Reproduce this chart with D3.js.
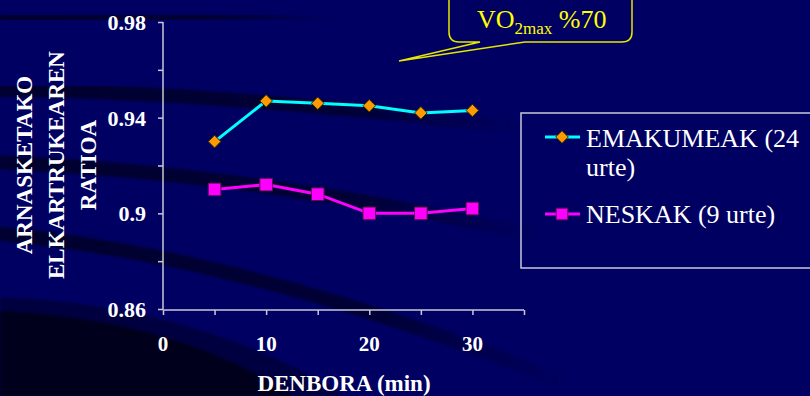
<!DOCTYPE html>
<html>
<head>
<meta charset="utf-8">
<script src="https://cdn.jsdelivr.net/npm/d3@7/dist/d3.min.js"></script>
<style>
  html, body { margin: 0; padding: 0; background: #000062; }
  svg { display: block; }
  .serif { font-family: "Liberation Serif", "Times New Roman", Times, "DejaVu Serif", serif; }
</style>
</head>
<body>
<svg id="chart" width="810" height="396"></svg>
<script>
// Breathing exchange ratio over time at 70% VO2max
const minutes = [5, 10, 15, 20, 25, 30];
const emakumeak = [0.930, 0.947, 0.946, 0.945, 0.942, 0.943];
const neskak = [0.910, 0.912, 0.908, 0.900, 0.900, 0.902];
const seriesNames = ["EMAKUMEAK (24", "urte)", "NESKAK (9 urte)"];
const yTickValues = [0.86, 0.88, 0.90, 0.92, 0.94, 0.96, 0.98];
const yLabelValues = [0.86, 0.90, 0.94, 0.98];
const xTickValues = [0, 5, 10, 15, 20, 25, 30, 35];
const xLabelValues = [0, 10, 20, 30];
const yTitle = ["ARNASKETAKO", "ELKARTRUKEAREN", "RATIOA"];
const xTitle = "DENBORA (min)";

const svg = d3.select("#chart");
const W = 810, H = 396;

// ---- background with dark sweeping bands ----
const bg = svg.append("g");
const defs = svg.append("defs");
defs.append("filter").attr("id", "soft")
  .append("feGaussianBlur").attr("stdDeviation", 0.8);

bg.append("rect").attr("width", W).attr("height", H).attr("fill", "#000062");

const bands = [
  {d: "M -10 16 Q 120 15 330 19", x0: 0, x1: 330},
  {d: "M -10 90 Q 200 90 520 128", x0: 0, x1: 520},
  {d: "M -10 162 Q 250 172 540 236", x0: 0, x1: 540},
  {d: "M -10 233 Q 250 255 570 385", x0: 0, x1: 570}
];
bands.forEach((b, i) => {
  const g = defs.append("linearGradient").attr("id", "fade" + i)
    .attr("gradientUnits", "userSpaceOnUse")
    .attr("x1", b.x0).attr("x2", b.x1).attr("y1", 0).attr("y2", 0);
  g.append("stop").attr("offset", "0%").attr("stop-color", "#000030").attr("stop-opacity", 1);
  g.append("stop").attr("offset", "65%").attr("stop-color", "#000030").attr("stop-opacity", 0.9);
  g.append("stop").attr("offset", "100%").attr("stop-color", "#000030").attr("stop-opacity", 0);
});
bg.selectAll("path.band").data(bands).join("path")
  .attr("class", "band")
  .attr("d", d => d.d)
  .attr("fill", "none")
  .attr("stroke", (d, i) => `url(#fade${i})`)
  .attr("stroke-width", 14)
  .attr("filter", "url(#soft)");

bg.append("path")
  .attr("d", "M 0 297 Q 200 305 345 396 L 0 396 Z")
  .attr("fill", "#000040").attr("filter", "url(#soft)");
bg.append("path")
  .attr("d", "M 0 311 Q 180 320 292 396 L 0 396 Z")
  .attr("fill", "#00001e").attr("filter", "url(#soft)");

// ---- scales ----
const x = d3.scaleLinear().domain([0, 35]).range([163, 524]);
const y = d3.scaleLinear().domain([0.86, 0.98]).range([309, 22]);

const axisColor = "#c8c8d8";

// y axis
const yAxis = svg.append("g").attr("transform", `translate(${x(0)},0)`)
  .call(d3.axisLeft(y).tickValues(yTickValues).tickSize(5).tickFormat(""));
yAxis.selectAll("path, line").attr("stroke", axisColor).attr("stroke-width", 1.5);
yAxis.select(".domain").attr("d", `M0,${y(0.86)}V${y(0.98)}`);

svg.append("g").selectAll("text").data(yLabelValues).join("text")
  .attr("class", "serif")
  .attr("x", 146).attr("y", d => y(d) + 8)
  .attr("text-anchor", "end")
  .attr("fill", "#ffffff")
  .attr("font-weight", "bold").attr("font-size", 22)
  .text(d => +d.toFixed(2));

// x axis
const xAxis = svg.append("g").attr("transform", `translate(0,${y(0.86) + 1})`)
  .call(d3.axisBottom(x).tickValues(xTickValues).tickSize(5).tickFormat(""));
xAxis.selectAll("path, line").attr("stroke", axisColor).attr("stroke-width", 1.5);
xAxis.select(".domain").attr("d", `M${x(0)},0H${x(35)}`);

svg.append("g").selectAll("text").data(xLabelValues).join("text")
  .attr("class", "serif")
  .attr("x", d => x(d)).attr("y", 351)
  .attr("text-anchor", "middle")
  .attr("fill", "#ffffff")
  .attr("font-weight", "bold").attr("font-size", 21)
  .text(d => d);

svg.append("text")
  .attr("class", "serif")
  .attr("x", 344).attr("y", 391)
  .attr("text-anchor", "middle")
  .attr("fill", "#ffffff")
  .attr("font-weight", "bold").attr("font-size", 23)
  .text(xTitle);

// y title, three rotated lines
const yt = svg.append("g").attr("transform", "translate(0,165) rotate(-90)");
yt.selectAll("text").data(yTitle).join("text")
  .attr("class", "serif")
  .attr("x", 0).attr("y", (d, i) => 32 + i * 32)
  .attr("text-anchor", "middle")
  .attr("fill", "#ffffff")
  .attr("font-weight", "bold").attr("font-size", 23)
  .text(d => d);

// ---- series ----
const line = d3.line().x(d => x(d[0])).y(d => y(d[1]));
const emData = minutes.map((m, i) => [m, emakumeak[i]]);
const neData = minutes.map((m, i) => [m, neskak[i]]);

svg.append("path").datum(emData).attr("d", line)
  .attr("fill", "none").attr("stroke", "#00ffff").attr("stroke-width", 3);
svg.append("path").datum(neData).attr("d", line)
  .attr("fill", "none").attr("stroke", "#ff00ff").attr("stroke-width", 3);

const diamond = r => `M0,${-r}L${r},0L0,${r}L${-r},0Z`;
const square = s => `M${-s},${-s}H${s}V${s}H${-s}Z`;

svg.append("g").selectAll("path").data(emData).join("path")
  .attr("transform", d => `translate(${x(d[0])},${y(d[1])})`)
  .attr("d", diamond(6.3))
  .attr("fill", "#ff9900").attr("stroke", "#2e3300").attr("stroke-width", 1);

svg.append("g").selectAll("path").data(neData).join("path")
  .attr("transform", d => `translate(${x(d[0])},${y(d[1])})`)
  .attr("d", square(6.3))
  .attr("fill", "#ff00ff").attr("stroke", "#5a1050").attr("stroke-width", 1);

// ---- legend ----
const lg = svg.append("g");
lg.append("rect").attr("x", 521).attr("y", 113).attr("width", 320).attr("height", 155)
  .attr("fill", "none").attr("stroke", "#c8c8d8").attr("stroke-width", 1.5);

lg.append("line").attr("x1", 545).attr("x2", 580).attr("y1", 137).attr("y2", 137)
  .attr("stroke", "#00ffff").attr("stroke-width", 3);
lg.append("path").attr("transform", "translate(562,137)").attr("d", diamond(6.3))
  .attr("fill", "#ff9900").attr("stroke", "#2e3300").attr("stroke-width", 1);
lg.append("line").attr("x1", 545).attr("x2", 580).attr("y1", 214).attr("y2", 214)
  .attr("stroke", "#ff00ff").attr("stroke-width", 3);
lg.append("path").attr("transform", "translate(562,214)").attr("d", square(5.8))
  .attr("fill", "#ff00ff").attr("stroke", "#5a1050").attr("stroke-width", 1);

lg.selectAll("text").data(seriesNames).join("text")
  .attr("class", "serif")
  .attr("x", 586).attr("y", (d, i) => [147, 176, 223][i])
  .attr("fill", "#ffffff")
  .attr("font-size", 26)
  .text(d => d);

// ---- callout ----
const co = svg.append("g");
co.append("path")
  .attr("d", "M449,-20 L449,32 Q449,42 459,42 L480,42 L399,61 L525,42 L622,42 Q632,42 632,32 L632,-20 Z")
  .attr("fill", "#000062").attr("stroke", "#e6e600").attr("stroke-width", 1.5);
const ct = co.append("text").attr("class", "serif").attr("x", 477).attr("y", 28)
  .attr("fill", "#ffff00").attr("font-size", 26);
ct.append("tspan").text("VO");
ct.append("tspan").attr("font-size", 17).attr("dy", 6).text("2max");
ct.append("tspan").attr("dy", -6).text(" %70");
</script>
</body>
</html>
